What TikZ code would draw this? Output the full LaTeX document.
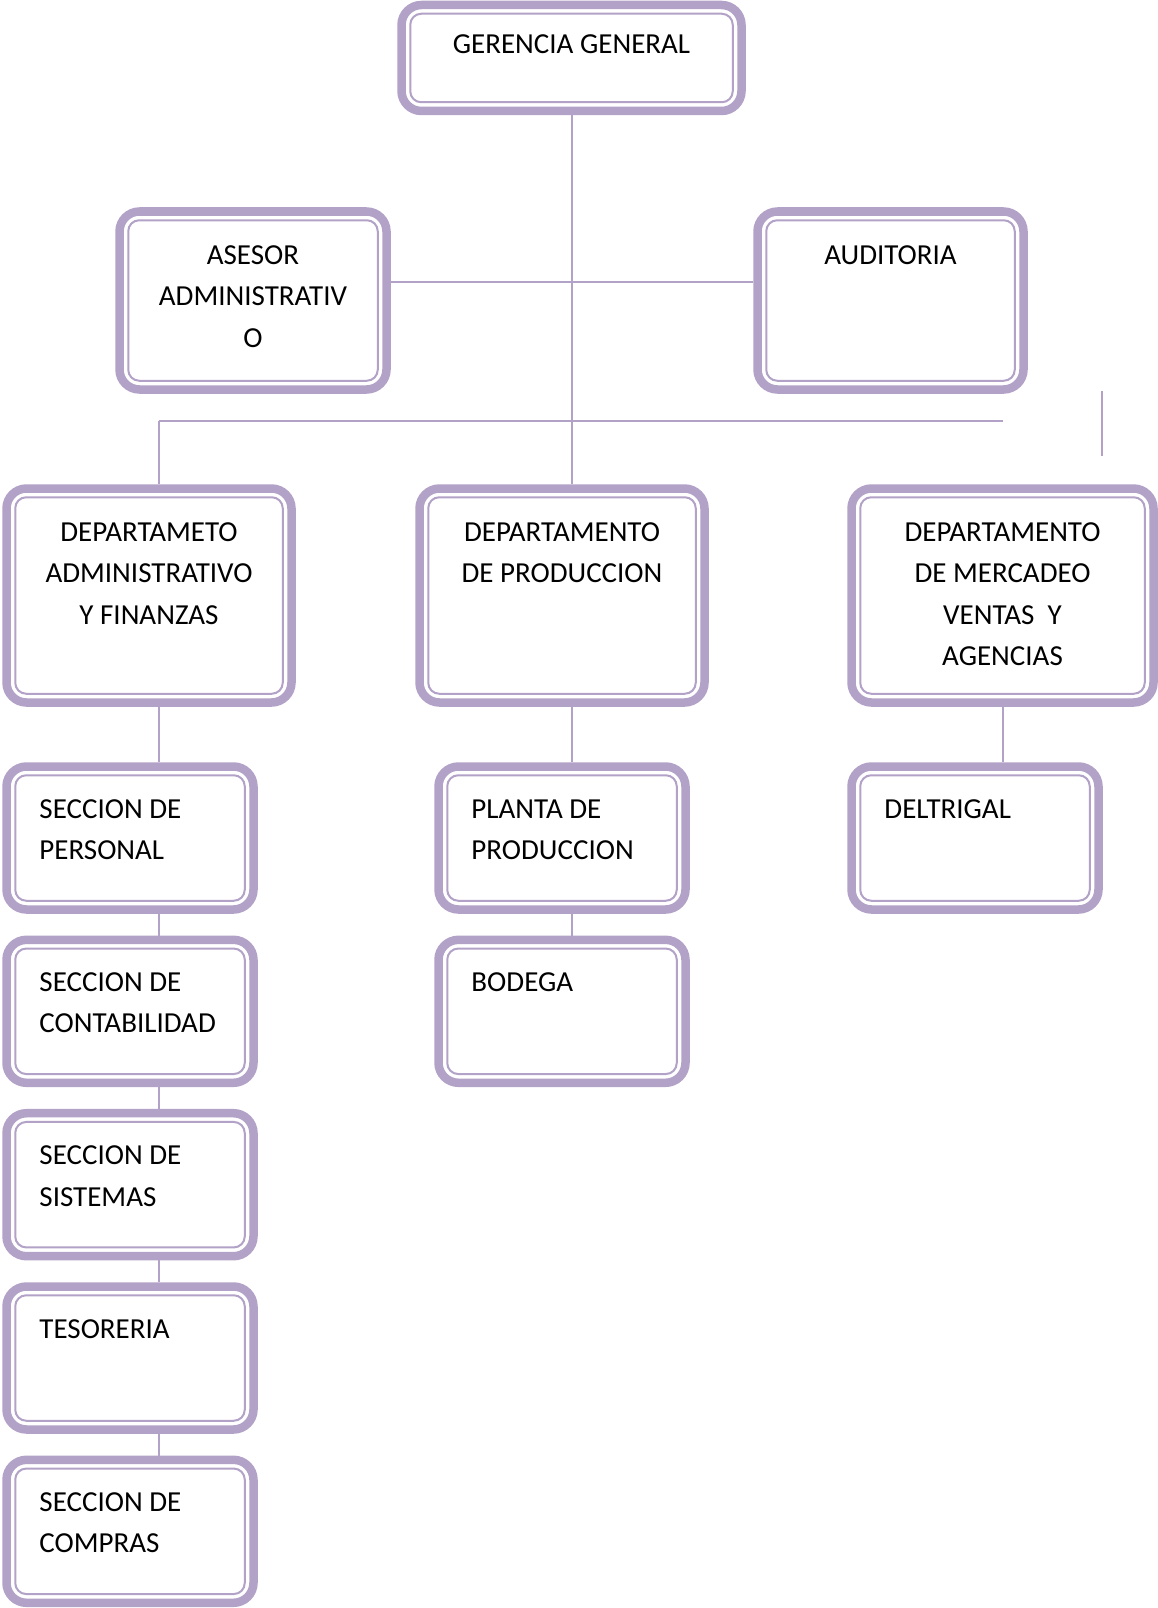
\documentclass[tikz,border=0pt]{standalone}
\usepackage{fontspec}
\setmainfont{Carlito}
\usetikzlibrary{positioning}
\definecolor{lav}{RGB}{179,162,199}
\newcommand{\orgfont}{\fontsize{29}{41.4}\selectfont}
\tikzset{
  orgbox/.style={rectangle, draw=lav, line width=8.5pt, rounded corners=20pt, fill=white},
  midbox/.style={orgbox, minimum width=285pt, minimum height=214pt},
  secbox/.style={orgbox, minimum width=247pt, minimum height=143pt},
  inner frame/.style={draw=lav, line width=2pt, rounded corners=11pt},
  link/.style={draw=lav, line width=2pt},
  txt/.style={inner sep=0pt, align=center, font=\orgfont},
  ltxt/.style={inner sep=0pt, align=left, font=\orgfont},
}
\begin{document}
\begin{tikzpicture}[x=1pt, y=-1pt]
    \useasboundingbox (0,0) rectangle (1158,1608);
    % boxes
    \node[orgbox, minimum width=340pt, minimum height=106pt] (gg) at (571.5, 58) {};
    \node[orgbox, minimum width=267pt, minimum height=178pt] (aa) at (253, 300.5) {};
    \node[orgbox, minimum width=266pt, minimum height=178pt] (au) at (890.5, 300.5) {};
    \node[midbox] (da) at (149, 595.5) {};
    \node[midbox] (dp) at (562, 595.5) {};
    \node[midbox, minimum width=302pt] (dm) at (1002.5, 595.5) {};
    \node[secbox] (sp) at (130, 838) {};
    \node[secbox] (sc) at (130, 1011.3) {};
    \node[secbox] (ss) at (130, 1184.7) {};
    \node[secbox] (st) at (130, 1358) {};
    \node[secbox] (sm) at (130, 1531.3) {};
    \node[secbox] (pp) at (562, 838) {};
    \node[secbox] (bd) at (562, 1011.3) {};
    \node[secbox] (dl) at (975, 838) {};
    \foreach \n in {gg,aa,au,da,dp,dm,sp,sc,ss,st,sm,pp,bd,dl}
      \draw[inner frame] ([shift={(13pt,13pt)}]\n.south west) rectangle ([shift={(-13pt,-13pt)}]\n.north east);

    % texts
    \node[txt, below=34pt of gg.north] (gg-t) {GERENCIA GENERAL};
    \node[txt, below=38pt of aa.north] (aa-t) {ASESOR\\ADMINISTRATIV\\O};
    \node[txt, below=38pt of au.north] (au-t) {AUDITORIA};
    \node[txt, below=38pt of da.north] (da-t) {DEPARTAMETO\\ADMINISTRATIVO\\Y FINANZAS};
    \node[txt, below=38pt of dp.north] (dp-t) {DEPARTAMENTO\\DE PRODUCCION};
    \node[txt, below=38pt of dm.north] (dm-t) {DEPARTAMENTO\\DE MERCADEO\\VENTAS\ \ Y\\AGENCIAS};
    \node[ltxt, below right=37pt and 37pt of sp.north west] (sp-t) {SECCION DE\\PERSONAL};
    \node[ltxt, below right=37pt and 37pt of sc.north west] (sc-t) {SECCION DE\\CONTABILIDAD};
    \node[ltxt, below right=37pt and 37pt of ss.north west] (ss-t) {SECCION DE\\SISTEMAS};
    \node[ltxt, below right=37pt and 37pt of st.north west] (st-t) {TESORERIA};
    \node[ltxt, below right=37pt and 37pt of sm.north west] (sm-t) {SECCION DE\\COMPRAS};
    \node[ltxt, below right=37pt and 37pt of pp.north west] (pp-t) {PLANTA DE\\PRODUCCION};
    \node[ltxt, below right=37pt and 37pt of bd.north west] (bd-t) {BODEGA};
    \node[ltxt, below right=37pt and 37pt of dl.north west] (dl-t) {DELTRIGAL};

    % connectors
    \coordinate (staff) at (571, 282);
    \coordinate (busL) at (159, 421);
    \coordinate (busR) at (1003, 421);
    \coordinate (strayT) at (1102, 391);
    \coordinate (strayB) at (1102, 456);
    \draw[link] (gg.south) -- (gg.south |- dp.north);
    \draw[link] (aa.east |- staff) -- (au.west |- staff);
    \draw[link] (busL) -- (busR);
    \draw[link] (busL) -- (busL |- da.north);
    \draw[link] (strayT) -- (strayB);
    \draw[link] (busL |- da.south) -- (busL |- sp.north);
    \foreach \a/\b in {sp/sc, sc/ss, ss/st, st/sm}
      \draw[link] (busL |- \a.south) -- (busL |- \b.north);
    \draw[link] (gg.south |- dp.south) -- (gg.south |- pp.north);
    \draw[link] (gg.south |- pp.south) -- (gg.south |- bd.north);
    \draw[link] (dm.south) -- (dm.south |- dl.north);
\end{tikzpicture}
\end{document}
